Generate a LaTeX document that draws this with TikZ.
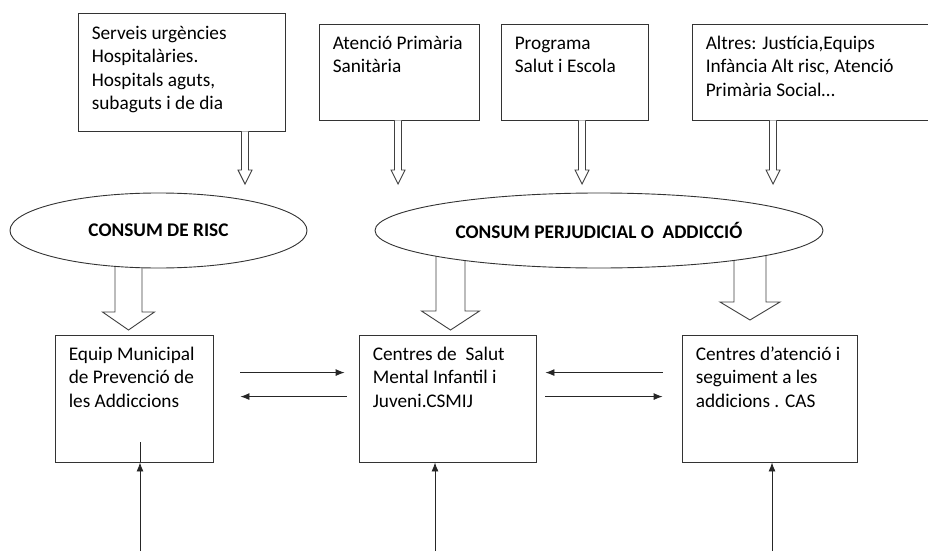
\documentclass[tikz,border=0pt]{standalone}
\usepackage{fontspec}
\setmainfont{Carlito}
\usetikzlibrary{calc,arrows.meta,shapes.geometric}
\tikzset{>={Latex[length=9pt,width=7pt]}}
\tikzset{
  box/.style={draw=black!80, line width=0.9pt, rectangle, inner sep=0pt},
  boxtext/.style={anchor=north west, align=left, inner sep=0pt, font=\fontsize{19.3}{23.5}\selectfont},
  oval/.style={draw=black!80, line width=0.9pt, ellipse, fill=white, inner sep=0pt, font=\bfseries\fontsize{19.3}{23}\selectfont},
  hollow/.style={draw=black!75, line width=0.9pt, fill=white, line join=miter},
  link/.style={->, draw=black!85, line width=0.9pt}
}
% first line of a box text always 16pt high
\newcommand{\tstrut}{\rule{0pt}{16pt}}
% hollow block arrow: from, tip, half shaft, half head, head length
\newcommand{\blockarr}[5]{%
  \draw[hollow] ($(#1)+(-#3,0)$) -- ($(#2)+(-#3,-#5)$) -- ($(#2)+(-#4,-#5)$) -- (#2)
    -- ($(#2)+(#4,-#5)$) -- ($(#2)+(#3,-#5)$) -- ($(#1)+(#3,0)$);}

\begin{document}
\begin{tikzpicture}[x=1pt,y=-1pt]
\useasboundingbox (0,0) rectangle (928,551);
\clip (0,0) rectangle (928,551);

% sources
\node[box, minimum width=207pt, minimum height=118pt] (srv) at (181.5,72) {};
\node[box, minimum width=160pt, minimum height=96pt] (aps) at (399,72) {};
\node[box, minimum width=147pt, minimum height=96pt] (salut) at (574.5,72) {};
\node[box, minimum width=250pt, minimum height=96pt] (altres) at (817,72) {};
\node[boxtext] (srvtxt) at ($(srv.north west)+(14,10.5)$) {\tstrut Serveis urgències\\Hospitalàries.\\Hospitals aguts,\\subaguts i de dia};
\node[boxtext] (apstxt) at ($(aps.north west)+(14,9.5)$) {\tstrut Atenció Primària\\Sanitària};
\node[boxtext] (saluttxt) at ($(salut.north west)+(14,9.5)$) {\tstrut Programa\\Salut i Escola};
\node[boxtext] (altrestxt) at ($(altres.north west)+(14,9.5)$) {\tstrut Altres: Justícia,Equips\\Infància Alt risc, Atenció\\Primària Social…};

% services
\node[box, minimum width=158pt, minimum height=127pt] (epa) at (134,398.5) {};
\node[box, minimum width=177pt, minimum height=127pt] (csmij) at (447.5,398.5) {};
\node[box, minimum width=175pt, minimum height=127pt] (cas) at (769.5,398.5) {};
\node[boxtext] (epatxt) at ($(epa.north west)+(14,9.5)$) {\tstrut Equip Municipal\\de Prevenció de\\les Addiccions};
\node[boxtext] (csmijtxt) at ($(csmij.north west)+(14,9.5)$) {\tstrut Centres de\ \ Salut\\Mental Infantil i\\Juveni.CSMIJ};
\node[boxtext] (castxt) at ($(cas.north west)+(14,9.5)$) {\tstrut Centres d’atenció i\\seguiment a les\\addicions . CAS};

% block arrows
\blockarr{245,0 |- srv.south}{245,184}{3.5}{7}{14}
\blockarr{398,0 |- aps.south}{398,184}{3.5}{7}{14}
\blockarr{582,0 |- salut.south}{582,184}{3.5}{7}{14}
\blockarr{773,0 |- altres.south}{773,184}{3.5}{7}{14}
\blockarr{128.5,230}{128.5,330}{13.5}{26}{18}
\blockarr{450.5,230}{450.5,330}{14.5}{29}{19}
\blockarr{750,230}{750,320}{16}{30}{18}

% levels
\node[oval, minimum width=297pt, minimum height=75pt] (risc) at (158.5,230.5) {CONSUM DE RISC};
\node[oval, minimum width=448pt, minimum height=75pt] (perj) at (599,230.5) {CONSUM PERJUDICIAL O\ \ ADDICCIÓ};

% links between services
\draw[link] ($(epa.north east)+(27,38)$) -- ($(csmij.north west)+(-14,38)$);
\draw[link] ($(csmij.north west)+(-12,62)$) -- ($(epa.north east)+(27,62)$);
\draw[link] ($(cas.north west)+(-19,38)$) -- ($(csmij.north east)+(9,38)$);
\draw[link] ($(csmij.north east)+(9,62)$) -- ($(cas.north west)+(-19,62)$);

% inputs from below
\coordinate (inepa) at (140,551);
\coordinate (incsmij) at (435,551);
\coordinate (incas) at (772,551);
\draw[link] (inepa) -- (inepa |- epa.south);
\draw[link, -] (inepa |- epa.south) -- ++(0,-20);
\draw[link] (incsmij) -- (incsmij |- csmij.south);
\draw[link] (incas) -- (incas |- cas.south);
\end{tikzpicture}
\end{document}
